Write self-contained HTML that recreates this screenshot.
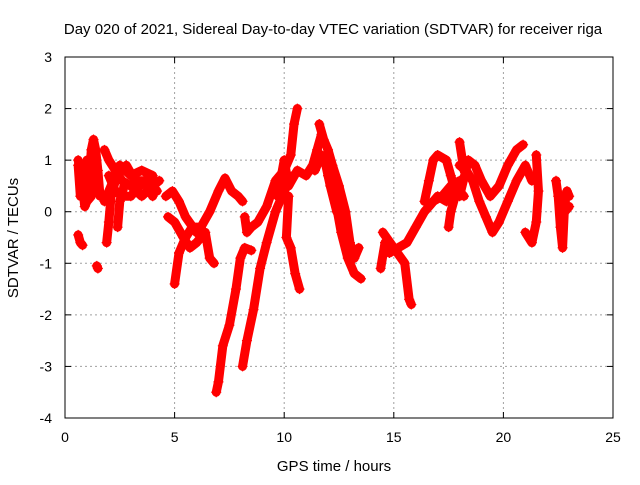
<!DOCTYPE html>
<html><head><meta charset="utf-8"><style>
body{margin:0;background:#fff;}
svg{font-family:"Liberation Sans",sans-serif;}
</style></head><body>
<svg id="chart" width="640" height="480">
<text x="333" y="34" text-anchor="middle" font-size="15">Day 020 of 2021, Sidereal Day-to-day VTEC variation (SDTVAR) for receiver riga</text>
<text x="334" y="471" text-anchor="middle" font-size="15">GPS time / hours</text>
<text transform="translate(18,238) rotate(-90)" text-anchor="middle" font-size="15">SDTVAR / TECUs</text>
<g id="grid"></g><g id="marks"></g>
<rect x="65" y="57" width="548" height="361" fill="none" stroke="#000" stroke-width="1"/>
</svg>
<script>
const xTicks=[0,5,10,15,20,25];
const yTicks=[3,2,1,0,-1,-2,-3,-4];
const arc1=[[0.6,0.9],[0.7,0.3],[0.8,0.8],[0.9,0.4],[1.0,1.0],[1.1,0.6],[1.2,1.2],[1.3,1.4],[1.4,1.2],[1.5,0.8],[1.6,0.3]];
const arc2=[[0.6,1.0],[0.7,0.8],[0.8,0.5],[0.9,0.1],[1.0,0.2],[1.2,0.3],[1.4,0.6]];
const arc3=[[0.6,-0.45],[0.7,-0.6],[0.8,-0.65]];
const arc4=[[1.45,-1.05],[1.5,-1.1]];
const arc5=[[1.8,1.2],[2.0,1.0],[2.3,0.8],[2.6,0.6],[3.0,0.5],[3.5,0.3],[4.0,0.5],[4.3,0.6]];
const arc6=[[1.8,0.2],[2.0,0.4],[2.5,0.9],[3.0,0.7],[3.5,0.8],[4.0,0.7]];
const arc7=[[1.9,-0.6],[2.0,-0.2],[2.1,0.3],[2.3,0.6]];
const arc8=[[2.4,-0.3],[2.5,0.2],[2.7,0.5]];
const arc9=[[4.6,0.3],[4.9,0.4],[5.2,0.2],[5.5,-0.1],[6.0,-0.4],[6.3,-0.5]];
const arc10=[[5.0,-1.4],[5.2,-0.8],[5.5,-0.5],[5.8,-0.3],[6.2,-0.3],[6.6,0.0],[7.0,0.4],[7.3,0.65],[7.6,0.4],[7.9,0.3],[8.1,0.2]];
const arc11=[[4.7,-0.1],[5.0,-0.2],[5.4,-0.5],[5.7,-0.7],[6.0,-0.6],[6.4,-0.4],[6.6,-0.9],[6.8,-1.0]];
const arc12=[[8.2,-0.1],[8.3,-0.4],[8.5,-0.3],[8.8,-0.2],[9.2,0.1],[9.6,0.6],[10.0,0.8],[10.3,1.1],[10.45,1.7],[10.6,2.0]];
const arc13=[[6.9,-3.5],[7.0,-3.3],[7.2,-2.6],[7.5,-2.2],[7.8,-1.5],[8.0,-0.9],[8.2,-0.7],[8.5,-0.75]];
const arc14=[[8.1,-3.0],[8.3,-2.5],[8.6,-1.9],[8.9,-1.1],[9.2,-0.6],[9.6,0.0],[10.0,0.4],[10.4,0.7]];
const arc15=[[10.2,0.3],[10.1,-0.5],[10.3,-0.7],[10.5,-1.2],[10.7,-1.5]];
const arc16=[[9.7,0.3],[10.0,1.0],[10.2,0.5],[10.6,0.8],[11.0,0.7],[11.3,0.9],[11.5,1.2],[11.7,1.5]];
const arc17=[[11.6,1.7],[11.8,1.4],[12.0,1.2],[12.2,0.9],[12.5,0.5],[12.8,0.0],[13.0,-0.6],[13.2,-0.9],[13.4,-0.7]];
const arc18=[[12.0,0.7],[12.3,0.3],[12.6,-0.4],[12.9,-0.9],[13.2,-1.2],[13.5,-1.3]];
const arc19=[[14.4,-1.1],[14.6,-0.6],[14.8,-0.8],[15.2,-0.7],[15.6,-0.6],[16.0,-0.3],[16.4,0.0],[16.8,0.2],[17.2,0.3],[17.6,0.5],[18.0,0.6]];
const arc20=[[14.5,-0.4],[15.0,-0.7],[15.5,-1.0],[15.7,-1.7],[15.8,-1.8]];
const arc21=[[16.4,0.2],[16.6,0.6],[16.8,1.0],[17.0,1.1],[17.4,1.0],[17.6,0.7],[17.8,0.4]];
const arc22=[[18.0,0.9],[18.3,0.8],[18.6,0.6],[18.9,0.2],[19.2,-0.1],[19.5,-0.4],[19.8,-0.2],[20.2,0.2],[20.6,0.6],[21.0,0.9],[21.3,0.6]];
const arc23=[[18.0,0.3],[18.4,1.0],[18.7,0.9],[19.0,0.6],[19.4,0.3],[19.8,0.5],[20.2,0.9],[20.6,1.2],[20.9,1.3]];
const arc24=[[17.5,-0.3],[17.6,0.0],[17.8,0.3]];
const arc25=[[18.0,1.35],[18.2,0.8]];
const arc26=[[21.0,-0.4],[21.3,-0.6],[21.5,-0.2],[21.6,0.4],[21.5,1.1]];
const arc27=[[22.4,0.6],[22.5,0.3],[22.6,-0.3],[22.7,-0.7],[22.8,0.2],[22.9,0.4],[23.0,0.3]];
const arc28=[[0.7,0.6],[0.9,0.9],[1.1,0.3],[1.3,0.9],[1.5,0.4]];
const arc29=[[2.0,0.7],[2.3,0.4],[2.6,0.3],[3.0,0.3],[3.4,0.5],[3.8,0.6],[4.2,0.4]];
const arc30=[[2.8,0.9],[3.2,0.6],[3.6,0.6],[4.0,0.3]];
const arc31=[[11.4,0.8],[11.7,1.1],[11.9,0.9],[12.1,0.5],[12.4,0.0]];
const arc32=[[16.6,0.1],[17.0,0.3],[17.4,0.2],[17.8,0.5],[18.2,0.3]];
const arc33=[[22.6,0.2],[22.8,0.0],[23.0,0.1]];
const arcs=[arc1,arc2,arc3,arc4,arc5,arc6,arc7,arc8,arc9,arc10,arc11,arc12,arc13,arc14,arc15,arc16,arc17,arc18,arc19,arc20,arc21,arc22,arc23,arc24,arc25,arc26,arc27,arc28,arc29,arc30,arc31,arc32,arc33];
const NS="http://www.w3.org/2000/svg";
const X0=65,X1=613,Y0=418,Y1=57;
function xs(t){return X0+(t-0)/25*(X1-X0);}
function ys(v){return Y0-(v+4)/7*(Y0-Y1);}
const grid=document.getElementById('grid'),marks=document.getElementById('marks');
function mk(tag,a,p){const e=document.createElementNS(NS,tag);for(const k in a)e.setAttribute(k,a[k]);p.appendChild(e);return e;}
xTicks.forEach(t=>{const x=xs(t);
 if(t>0&&t<25){const g=mk('line',{x1:x,x2:x,y1:Y1,y2:Y0,stroke:'#a0a0a0','stroke-dasharray':'2,3'},grid);
 
 }
 mk('line',{x1:x,x2:x,y1:Y0,y2:Y0-6,stroke:'#000'},grid);mk('line',{x1:x,x2:x,y1:Y1,y2:Y1+6,stroke:'#000'},grid);
 const l=mk('text',{x:x,y:442,'text-anchor':'middle','font-size':14},grid);l.textContent=t;
 
 });
yTicks.forEach(v=>{const y=ys(v);
 if(v>-4&&v<3){const g=mk('line',{x1:X0,x2:X1,y1:y,y2:y,stroke:'#a0a0a0','stroke-dasharray':'2,3'},grid);
 
 }
 mk('line',{x1:X0,x2:X0+6,y1:y,y2:y,stroke:'#000'},grid);mk('line',{x1:X1,x2:X1-6,y1:y,y2:y,stroke:'#000'},grid);
 const l=mk('text',{x:52,y:y+5,'text-anchor':'end','font-size':14},grid);l.textContent=v;
 
 });
arcs.forEach((a,i)=>{
 const pl=mk('polyline',{points:a.map(p=>xs(p[0])+','+ys(p[1])).join(' '),fill:'none',stroke:'#ff0000','stroke-width':9,'stroke-linejoin':'round','stroke-linecap':'round'},marks);
 
 
 a.forEach(p=>{const x=xs(p[0]),y=ys(p[1]);
  const m=mk('path',{d:`M${x-5},${y}H${x+5}M${x},${y-5}V${y+5}`,stroke:'#ff0000','stroke-width':1.2},marks);
  
  });
});
</script>
</body></html>
